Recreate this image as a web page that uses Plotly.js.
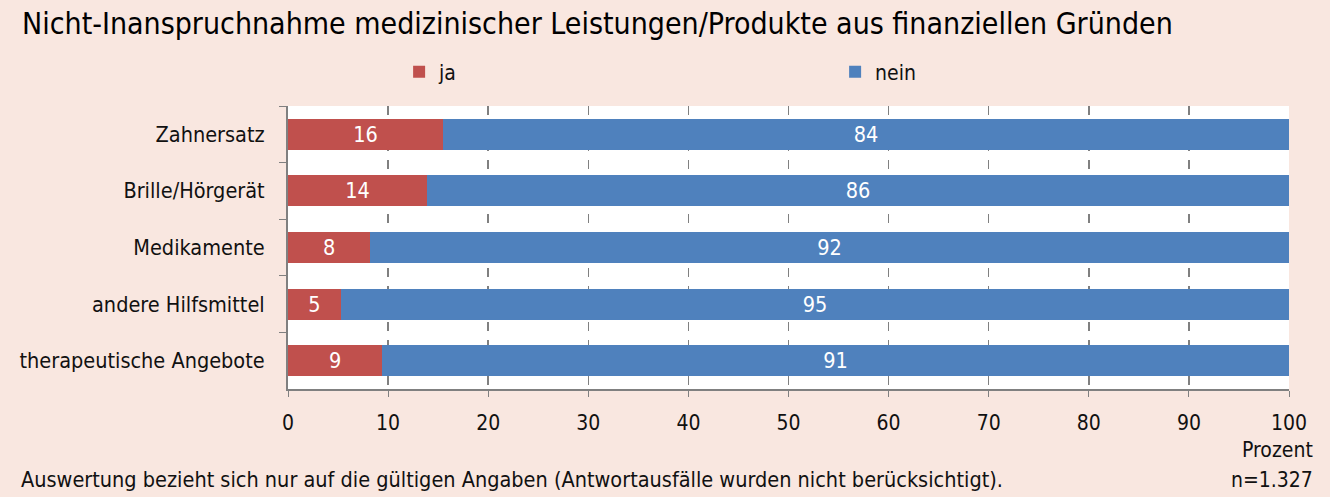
<!DOCTYPE html>
<html><head><meta charset="utf-8">
<script src="https://cdn.plot.ly/plotly-3.0.1.min.js"></script>
<style>body{margin:0;padding:0;background:#F9E7E0}</style>
</head><body>
<div id="chart" style="width:1330px;height:497px"></div>
<script>
const categories = ["Zahnersatz", "Brille/Hörgerät", "Medikamente", "andere Hilfsmittel", "therapeutische Angebote"];
const jaValues = [15.5, 13.9, 8.2, 5.3, 9.4];
const jaLabels = ["16", "14", "8", "5", "9"];
const neinValues = [84.5, 86.1, 91.8, 94.7, 90.6];
const neinLabels = ["84", "86", "92", "95", "91"];
const xTicks = [0, 10, 20, 30, 40, 50, 60, 70, 80, 90, 100];

const FONT = "DejaVu Sans Condensed, Liberation Sans, sans-serif";
const traces = [
  {type: "bar", orientation: "h", name: "ja", y: categories, x: jaValues, text: jaLabels,
   textposition: "inside", insidetextanchor: "middle", textangle: 0,
   textfont: {color: "#ffffff", size: 21.5, family: FONT},
   marker: {color: "#C0504D"}, hoverinfo: "skip"},
  {type: "bar", orientation: "h", name: "nein", y: categories, x: neinValues, text: neinLabels,
   textposition: "inside", insidetextanchor: "middle", textangle: 0,
   textfont: {color: "#ffffff", size: 21.5, family: FONT},
   marker: {color: "#4F81BD"}, hoverinfo: "skip"}
];
const layout = {
  width: 1330, height: 497,
  paper_bgcolor: "#F9E7E0", plot_bgcolor: "#ffffff",
  font: {family: FONT, size: 21, color: "#111111"},
  barmode: "stack", bargap: 0.45,
  margin: {l: 288, r: 41, t: 106, b: 108},
  title: {text: "Nicht-Inanspruchnahme medizinischer Leistungen/Produkte aus finanziellen Gründen",
          x: 22/1330, xref: "container", xanchor: "left", y: 1 - 23/497, yref: "container", yanchor: "middle",
          font: {size: 30, family: FONT, color: "#000000"}},
  showlegend: true,
  legend: {orientation: "h", x: 0.111, xanchor: "left", y: 1.12, yanchor: "middle",
           entrywidth: 391, entrywidthmode: "pixels", traceorder: "normal",
           font: {size: 21, family: FONT}, bgcolor: "rgba(0,0,0,0)"},
  xaxis: {range: [0, 100], tickvals: xTicks, ticks: "outside", ticklen: 6, tickcolor: "#808080",
          showline: true, linecolor: "#808080", linewidth: 2,
          showgrid: true, gridcolor: "#808080", griddash: "dash", gridwidth: 1.5,
          zeroline: false, tickfont: {size: 21}, ticklabelstandoff: 8, fixedrange: true},
  yaxis: {autorange: "reversed", ticks: "outside", tickson: "boundaries", ticklen: 7, tickcolor: "#808080",
          showline: true, linecolor: "#808080", linewidth: 2, showgrid: false,
          tickfont: {size: 21.5}, ticklabelstandoff: 17, fixedrange: true},
  annotations: [
    {text: "Prozent", xref: "paper", yref: "paper", x: 1.026, y: -0.215, xanchor: "right", yanchor: "middle",
     showarrow: false, font: {size: 21}},
    {text: "n=1.327", xref: "paper", yref: "paper", x: 1.026, y: -0.32, xanchor: "right", yanchor: "middle",
     showarrow: false, font: {size: 21}},
    {text: "Auswertung bezieht sich nur auf die gültigen Angaben (Antwortausfälle wurden nicht berücksichtigt).",
     xref: "paper", yref: "paper", x: -0.269, y: -0.32, xanchor: "left", yanchor: "middle",
     showarrow: false, font: {size: 21.5}}
  ]
};
Plotly.newPlot("chart", traces, layout, {displayModeBar: false, staticPlot: true});
</script>
</body></html>
